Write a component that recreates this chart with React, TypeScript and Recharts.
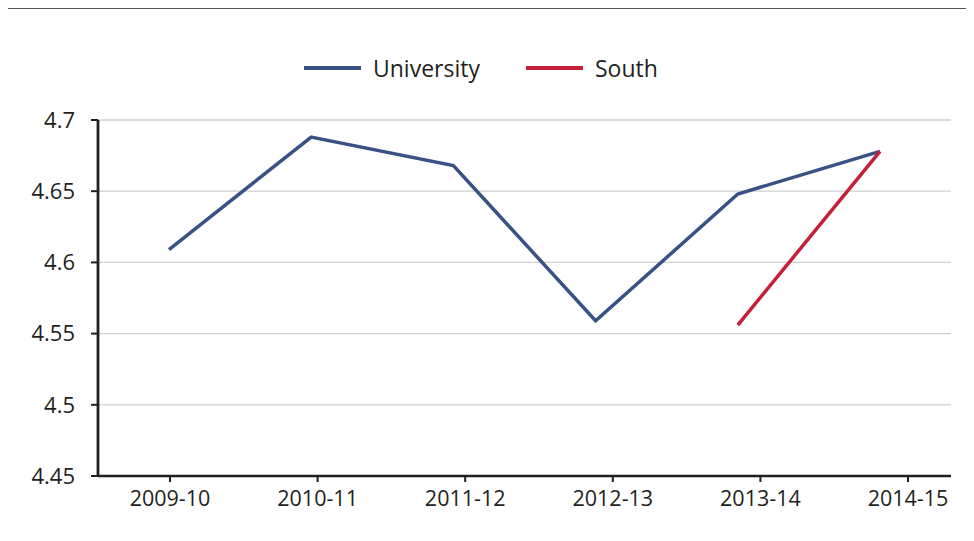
import React from 'react';
import { LineChart, Line, XAxis, YAxis, CartesianGrid } from 'recharts';

const categories = ['2009-10', '2010-11', '2011-12', '2012-13', '2013-14', '2014-15'];
const universityValues = [4.609, 4.688, 4.668, 4.559, 4.648, 4.678];
const southValues: (number | null)[] = [null, null, null, null, 4.556, 4.678];
const yTicks = [4.45, 4.5, 4.55, 4.6, 4.65, 4.7];

const seriesNames = ['University', 'South'];
const seriesColors = ['#385285', '#c51f3a'];

const data = categories.map((c, i) => ({
  period: c,
  University: universityValues[i],
  South: southValues[i],
}));

const FONT = '"Open Sans", "Noto Sans", sans-serif';

export default function App() {
  return (
    <div style={{ position: 'relative', margin: -8, width: 974, height: 541, overflow: 'hidden', background: '#fff' }}>
      <div
        style={{
          position: 'absolute',
          left: 5,
          top: 7,
          width: 1100,
          height: 700,
          borderTop: '2px solid #555',
          borderLeft: '2px solid #555',
        }}
      />
      <div
        style={{
          position: 'absolute',
          top: 53,
          left: 304,
          height: 30,
          display: 'flex',
          alignItems: 'center',
          fontFamily: FONT,
          fontSize: 23,
          fontWeight: 500,
          color: '#231f20',
        }}
      >
        {seriesNames.map((name, i) => (
          <div key={name} style={{ display: 'flex', alignItems: 'center', marginRight: i === 0 ? 46 : 0 }}>
            <div style={{ width: 57, height: 3.5, background: seriesColors[i], marginRight: 12 }} />
            <span>{name}</span>
          </div>
        ))}
      </div>
      <div style={{ position: 'absolute', left: 0, top: 0 }}>
        <LineChart width={974} height={541} data={data} margin={{ top: 120, right: 23, bottom: 35, left: 0 }}>
          <CartesianGrid horizontal vertical={false} stroke="#cfcfcf" strokeWidth={1.3} xAxisId="data" />
          <XAxis
            xAxisId="display"
            dataKey="period"
            height={30}
            padding={{ left: 72, right: 43 }}
            axisLine={{ stroke: '#231f20', strokeWidth: 2.5 }}
            tickLine={{ stroke: '#231f20', strokeWidth: 2 }}
            tickSize={6}
            tickMargin={9}
            tick={{ fill: '#231f20', fontSize: 21.5, fontWeight: 500, fontFamily: FONT }}
            interval={0}
          />
          <XAxis xAxisId="data" dataKey="period" hide height={0} padding={{ left: 71, right: 71 }} />
          <YAxis
            domain={[4.45, 4.7]}
            ticks={yTicks}
            width={98}
            axisLine={{ stroke: '#231f20', strokeWidth: 2.8 }}
            tickLine={{ stroke: '#231f20', strokeWidth: 2 }}
            tickSize={7}
            tickMargin={16}
            tick={{ fill: '#231f20', fontSize: 22, fontWeight: 500, fontFamily: FONT }}
            interval={0}
          />
          {seriesNames.map((name, i) => (
            <Line
              key={name}
              xAxisId="data"
              type="linear"
              dataKey={name}
              stroke={seriesColors[i]}
              strokeWidth={3.5}
              dot={false}
              activeDot={false}
              connectNulls={false}
              isAnimationActive={false}
            />
          ))}
        </LineChart>
      </div>
    </div>
  );
}
